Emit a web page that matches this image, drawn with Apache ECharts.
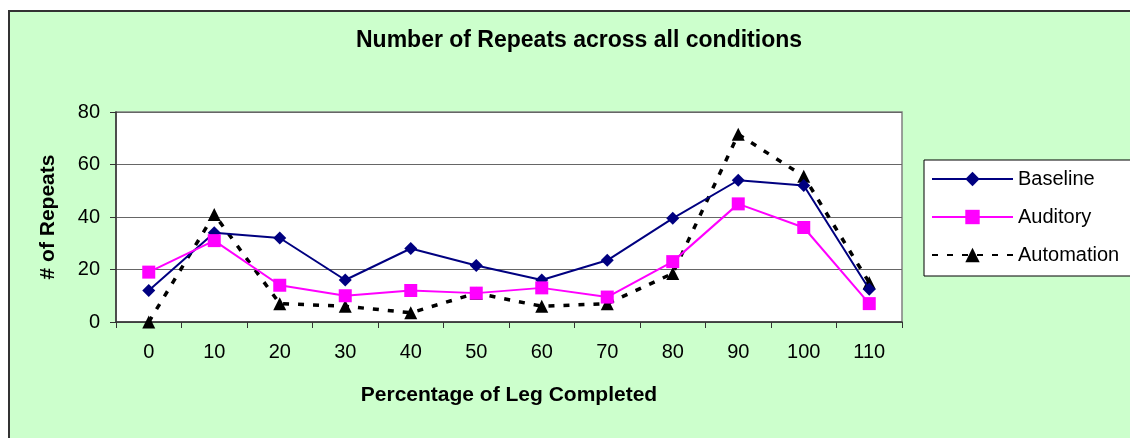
<!DOCTYPE html>
<html>
<head>
<meta charset="utf-8">
<script src="https://cdn.jsdelivr.net/npm/echarts@6/dist/echarts.min.js"></script>
<style>
  html, body { margin: 0; padding: 0; background: #fff; }
  #chart { width: 1130px; height: 438px; }
</style>
</head>
<body>
<div id="chart"></div>
<script>
// 各条件下的重复次数
var aCategories = ['0', '10', '20', '30', '40', '50', '60', '70', '80', '90', '100', '110'];
var aBaseline   = [12, 34, 32, 16, 28, 21.5, 16, 23.5, 39.5, 54, 52, 12.5];
var aAuditory   = [19, 31, 14, 10, 12, 11, 13, 9.5, 23, 45, 36, 7];
var aAutomation = [0, 41, 7, 6, 3.5, 11, 6, 7, 18.5, 71.5, 55.5, 15];
var aYTicks     = [0, 20, 40, 60, 80];

var cFont = '"Liberation Sans", Arial, sans-serif';

var oChart = echarts.init(document.getElementById('chart'));

var oOption = {
    backgroundColor: '#fff',
    animation: false,
    graphic: [
        {
            type: 'rect',
            left: 8, top: 10,
            shape: { width: 1140, height: 440 },
            style: { fill: '#ccffcc', stroke: '#333', lineWidth: 2 },
            z: -10
        }
    ],
    title: {
        text: 'Number of Repeats across all conditions',
        left: 574, top: 24, textAlign: 'center',
        textStyle: { fontFamily: cFont, fontSize: 23, fontWeight: 'bold', color: '#000' }
    },
    legend: {
        orient: 'vertical',
        left: 924, top: 160,
        padding: [9, 30, 11, 7],
        itemWidth: 81, itemHeight: 18, itemGap: 18,
        backgroundColor: '#fff',
        borderColor: '#000', borderWidth: 1, borderRadius: 0,
        textStyle: { fontFamily: cFont, fontSize: 20, lineHeight: 20, color: '#000' },
        data: ['Baseline', 'Auditory', 'Automation']
    },
    grid: {
        left: 116, top: 112, width: 786, height: 210,
        show: true, backgroundColor: '#fff',
        borderColor: '#808080', borderWidth: 1.5
    },
    xAxis: {
        type: 'category',
        data: aCategories,
        boundaryGap: true,
        name: 'Percentage of Leg Completed',
        nameLocation: 'middle', nameGap: 63,
        nameTextStyle: { fontFamily: cFont, fontSize: 21, fontWeight: 'bold', color: '#000' },
        axisLine: { lineStyle: { color: '#333', width: 1.5 } },
        axisTick: { show: true, alignWithLabel: false, length: 6, lineStyle: { color: '#333' } },
        axisLabel: { fontFamily: cFont, fontSize: 20, color: '#000', margin: 20 },
        splitLine: { show: false }
    },
    yAxis: {
        type: 'value',
        min: aYTicks[0], max: aYTicks[aYTicks.length - 1], interval: 20,
        name: '# of Repeats',
        nameLocation: 'middle', nameGap: 57, nameRotate: 90,
        nameTextStyle: { fontFamily: cFont, fontSize: 21, fontWeight: 'bold', color: '#000' },
        axisLine: { show: true, lineStyle: { color: '#333', width: 1.5 } },
        axisTick: { show: true, length: 6, lineStyle: { color: '#333' } },
        axisLabel: { fontFamily: cFont, fontSize: 20, color: '#000', margin: 16 },
        splitLine: { lineStyle: { color: '#666', width: 1.2 } }
    },
    series: [
        {
            name: 'Baseline', type: 'line', data: aBaseline,
            symbol: 'diamond', symbolSize: 13,
            lineStyle: { color: '#000080', width: 2 },
            itemStyle: { color: '#000080' }
        },
        {
            name: 'Auditory', type: 'line', data: aAuditory,
            symbol: 'rect', symbolSize: 13,
            lineStyle: { color: '#ff00ff', width: 2 },
            itemStyle: { color: '#ff00ff' }
        },
        {
            name: 'Automation', type: 'line', data: aAutomation,
            symbol: 'triangle', symbolSize: 13,
            lineStyle: { color: '#000', width: 3.5, type: [6, 9] },
            itemStyle: { color: '#000' },
            z: 1
        }
    ]
};

oChart.setOption(oOption);
</script>
</body>
</html>
